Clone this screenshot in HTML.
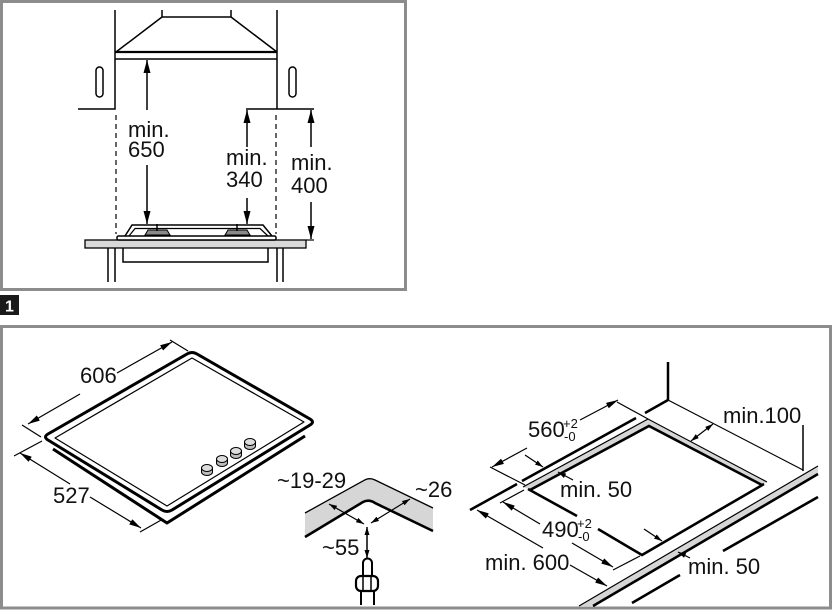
<!DOCTYPE html>
<html><head><meta charset="utf-8"><style>
html,body{margin:0;padding:0;background:#fff;}
svg{display:block;}
text{font-family:"Liberation Sans",Arial,sans-serif;fill:#111;}
</style></head><body>
<svg width="832" height="610" viewBox="0 0 832 610" xmlns="http://www.w3.org/2000/svg">
<defs>
<marker id="a" viewBox="0 0 13 7" refX="13" refY="3.5" markerWidth="13" markerHeight="7" markerUnits="userSpaceOnUse" orient="auto-start-reverse"><path d="M0,0L13,3.5L0,7z" fill="#000"/></marker>
<marker id="m" viewBox="0 0 12 6" refX="12" refY="3" markerWidth="12" markerHeight="6" markerUnits="userSpaceOnUse" orient="auto-start-reverse"><path d="M0,0L12,3L0,6z" fill="#000"/></marker>
<marker id="s" viewBox="0 0 8 5" refX="8" refY="2.5" markerWidth="8" markerHeight="5" markerUnits="userSpaceOnUse" orient="auto-start-reverse"><path d="M0,0L8,2.5L0,5z" fill="#000"/></marker>
</defs>
<rect width="832" height="610" fill="#fff"/>

<!-- TOP PANEL -->
<rect x="1.5" y="1.5" width="404" height="288" fill="#fff" stroke="#8c8c8c" stroke-width="3"/>
<g stroke="#000" fill="none" stroke-width="1.5">
  <path d="M162,10V17M231,10V17M162,17H231M162,17L116,52M231,17L277,52"/>
  <path d="M115,52H277" stroke-width="2.2"/>
  <path d="M115,59H277"/>
  <path d="M115,10V109H78M277,10V109H314M246,109H277"/>
  <rect x="96" y="67" width="7" height="30" rx="3.5"/>
  <rect x="289" y="67" width="7" height="30" rx="3.5"/>
  <path d="M116,115V234M276,115V234" stroke-dasharray="5,4" stroke-width="1.2"/>
  <path d="M147,110V60" marker-end="url(#a)"/>
  <path d="M147,165V224" marker-end="url(#a)"/>
  <path d="M247,147V110" marker-end="url(#a)"/>
  <path d="M247,198V224" marker-end="url(#a)"/>
  <path d="M311,147V110" marker-end="url(#a)"/>
  <path d="M311,202V239" marker-end="url(#a)"/>
  <rect x="85" y="240" width="221" height="8" fill="#d9d9d9" stroke-width="1.3"/>
  <path d="M306,240H314" stroke-width="1.2"/>
  <path d="M125,236L132,225H263L272,236"/>
  <path d="M129,236L135,228.5H260L268,236" stroke-width="1.2"/>
  <path d="M145,235L148,230H167L170,235Z" fill="#8a8a8a" stroke-width="1"/>
  <path d="M157,224V231" stroke-width="1.5"/>
  <path d="M225,235L228,230H247L250,235Z" fill="#8a8a8a" stroke-width="1"/>
  <path d="M237,224V231" stroke-width="1.5"/>
  <rect x="117" y="236" width="159" height="4" rx="1.5" fill="#fff"/>
  <path d="M123,248V262H268V248"/>
  <path d="M108,248V282M115,248V282M277,248V282M283,248V282"/>
</g>
<g font-size="22">
  <text x="128" y="137">min.</text><text x="128" y="157">650</text>
  <text x="226" y="165">min.</text><text x="226" y="187">340</text>
  <text x="291" y="170">min.</text><text x="291" y="193">400</text>
</g>

<rect x="0" y="295" width="19" height="20" fill="#1a1a1a"/>
<text x="9.5" y="311.5" font-size="16" font-weight="bold" text-anchor="middle" style="fill:#fff">1</text>

<!-- BOTTOM PANEL -->
<rect x="1.5" y="326.5" width="829" height="281.5" fill="#fff" stroke="#8c8c8c" stroke-width="3"/>

<g stroke="#000" fill="none" stroke-linejoin="round">
  <path d="M53,449L167,523L305,436" stroke-width="3"/>
  <path d="M48,434L187,354Q192,351 197,354L310,419Q315,422 310,425L172,510Q167,513 162,510L48,440Q43,437 48,434Z" stroke-width="3" fill="#fff"/>
  <path d="M55,438L192,358L304,422L167,506Z" stroke-width="1.2"/>
  <g stroke-width="1">
    <path d="M201.5,468v4a5.5,3.5 0 0 0 11,0v-4" fill="#bbb"/><ellipse cx="207" cy="468" rx="5.5" ry="3.5" fill="#ddd"/>
    <path d="M216.5,459v4a5.5,3.5 0 0 0 11,0v-4" fill="#bbb"/><ellipse cx="222" cy="459" rx="5.5" ry="3.5" fill="#ddd"/>
    <path d="M230.5,451v4a5.5,3.5 0 0 0 11,0v-4" fill="#bbb"/><ellipse cx="236" cy="451" rx="5.5" ry="3.5" fill="#ddd"/>
    <path d="M244.5,442v4a5.5,3.5 0 0 0 11,0v-4" fill="#bbb"/><ellipse cx="250" cy="442" rx="5.5" ry="3.5" fill="#ddd"/>
  </g>
  <g stroke-width="1.2">
    <path d="M22,425L41,437M170,340L188,351"/>
    <path d="M80,394L28,424" marker-end="url(#m)"/>
    <path d="M117,373L172,342" marker-end="url(#m)"/>
    <path d="M14,456L42,441M140,532L163,519"/>
    <path d="M70,484L20,453" marker-end="url(#m)"/>
    <path d="M90,497L141,528" marker-end="url(#m)"/>
  </g>
</g>
<g font-size="22">
  <text x="80" y="383">606</text>
  <text x="53" y="503">527</text>
</g>

<g stroke="#000" fill="none">
  <path d="M305,513L363,481Q369,477 375,480L433,508V531L375,503Q369,499 363,502L305,537Z" fill="#d6d6d6" stroke="none"/>
  <path d="M305,513L363,481Q369,477 375,480L433,508" stroke-width="1.3"/>
  <path d="M305,537L363,502Q369,499 375,503L433,531" stroke-width="2.6"/>
  <path d="M329,504L364,524" stroke-width="1.2" marker-start="url(#s)" marker-end="url(#s)"/>
  <path d="M410,499L371,523" stroke-width="1.2" marker-start="url(#s)" marker-end="url(#s)"/>
  <path d="M367,527V558" stroke-width="1.5" marker-start="url(#s)" marker-end="url(#s)"/>
  <path d="M363,577V563a4.5,4.5 0 0 1 9,0V577" fill="#fff" stroke-width="2"/>
  <rect x="356" y="576" width="22" height="15" rx="5" fill="#fff" stroke-width="2.2"/>
  <path d="M363,577V590M371,577V590" stroke-width="1.5"/>
  <path d="M361,591V605M374,591V605" stroke-width="2"/>
</g>
<g font-size="22">
  <text x="277" y="488">~19-29</text>
  <text x="415" y="497">~26</text>
  <text x="322" y="555">~55</text>
</g>

<g stroke="#000" fill="none">
  <path d="M668,362V400" stroke-width="2.5"/>
  <path d="M668,400L645,413M636,418L522,481M517,484L470,510" stroke-width="2.6"/>
  <path d="M668,400L803,470" stroke-width="1.2"/>
  <path d="M803,425V471" stroke-width="1.5"/>
  <path d="M818,466L818,474L591,606L579,606Z" fill="#d6d6d6" stroke="none"/>
  <path d="M818,466L579,606" stroke-width="1.2"/>
  <path d="M818,474L593,606" stroke-width="2.6"/>
  <path d="M818,497L723,551M680,575L632,603" stroke-width="2.6"/>
  <path d="M523,487L648,419L767,482L762,485L649,426L531,490Z" fill="#d6d6d6" stroke="none"/>
  <path d="M523,487L648,419L767,482" stroke-width="1.2"/>
  <path d="M762,485L649,426L530,490" stroke-width="2.6"/>
  <path d="M528,489L577,516M598,529L642,555L764,484" stroke-width="2.6"/>
  <g stroke-width="1.2">
    <path d="M490,467L525,485M617,402L648,419"/>
    <path d="M527,448L492,467" marker-end="url(#m)"/>
    <path d="M580,420L618,400" marker-end="url(#m)"/>
    <path d="M525,455L543,467" marker-end="url(#s)"/>
    <path d="M573,480L558,472" marker-end="url(#s)"/>
    <path d="M500,503L524,490M613,570L640,556"/>
    <path d="M540,524L503,502" marker-end="url(#m)"/>
    <path d="M572,543L613,567" marker-end="url(#m)"/>
    <path d="M543,548L477,510" marker-end="url(#m)"/>
    <path d="M570,565L607,586" marker-end="url(#m)"/>
    <path d="M644,529L662,541" marker-end="url(#s)"/>
    <path d="M690,558L678,552" marker-end="url(#s)"/>
    <path d="M691,441L713,424" marker-start="url(#s)" marker-end="url(#s)"/>
  </g>
</g>
<g font-size="22">
  <text x="528" y="437">560</text>
  <text x="542" y="537">490</text>
  <text x="560" y="497">min. 50</text>
  <text x="485" y="570">min. 600</text>
  <text x="688" y="574">min. 50</text>
  <text x="723" y="423">min.100</text>
</g>
<g font-size="13">
  <text x="563" y="428">+2</text><text x="564" y="441">-0</text>
  <text x="577" y="528">+2</text><text x="578" y="541">-0</text>
</g>
</svg>
</body></html>
